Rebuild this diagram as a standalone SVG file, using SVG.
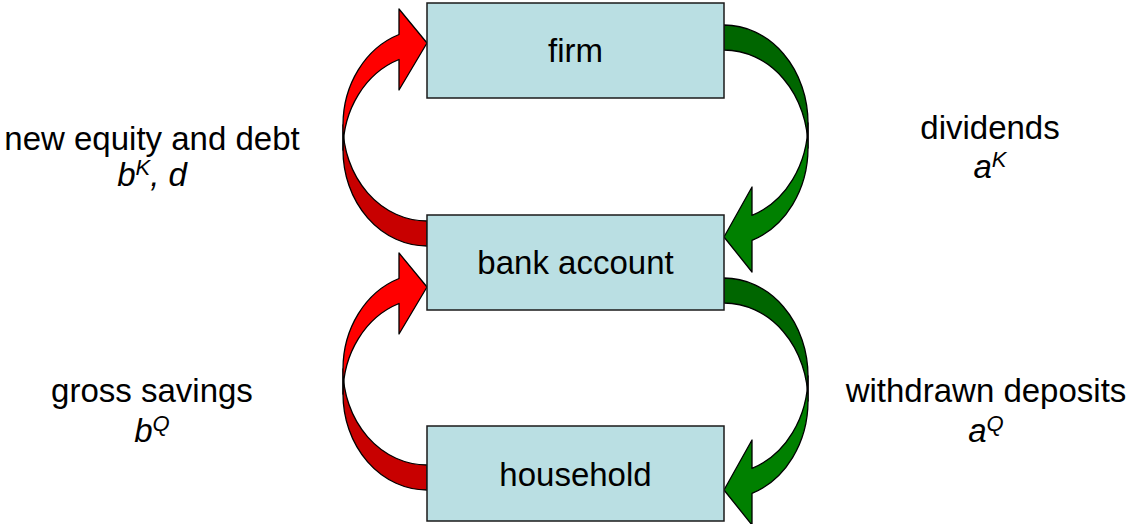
<svg xmlns="http://www.w3.org/2000/svg" width="1131" height="524" viewBox="0 0 1131 524">
<style>
.box{fill:#BADFE3;stroke:#1a1a1a;stroke-width:1.5}
.lbl{font-family:"Liberation Sans",Arial,sans-serif;font-size:33px;fill:#000;text-anchor:middle}
.it{font-style:italic}
.rf{fill:#FF0000;stroke:#000;stroke-width:1.3;stroke-linejoin:round}
.rb{fill:#C80000;stroke:#000;stroke-width:1.3;stroke-linejoin:round}
.gf{fill:#008000;stroke:#000;stroke-width:1.3;stroke-linejoin:round}
.gb{fill:#006600;stroke:#000;stroke-width:1.3;stroke-linejoin:round}
</style>
<defs>
<g id="redArrow">
<path class="rb" d="M427,221 A84,96 0 0 1 343,125 L343,150 A84,96 0 0 0 427,246 Z"/>
<path class="rf" d="M343,125 A84,96 0 0 1 399,34.5 L399,9 L427,43 L399,90 L399,59.5 A84,96 0 0 0 343,150 Z"/>
</g>
<g id="greenArrow">
<path class="gb" d="M724,50 A84,98 0 0 1 808,148 L808,123 A84,98 0 0 0 724,25 Z"/>
<path class="gf" d="M808,123 A84,98 0 0 1 752,215.4 L752,187 L724,237 L752,272 L752,240.4 A84,98 0 0 0 808,148 Z"/>
</g>
</defs>
<g id="connectors">
<use href="#redArrow"/>
<use href="#redArrow" transform="translate(0,244)"/>
<use href="#greenArrow"/>
<use href="#greenArrow" transform="translate(0,253)"/>
</g>
<g id="firm">
<rect class="box" x="427" y="3" width="297" height="95"/>
<text class="lbl" x="575.5" y="62">firm</text>
</g>
<g id="bank">
<rect class="box" x="427" y="215" width="297" height="95"/>
<text class="lbl" x="575.5" y="274">bank account</text>
</g>
<g id="household">
<rect class="box" x="427" y="426" width="297" height="95"/>
<text class="lbl" x="575.5" y="486">household</text>
</g>
<g id="labels">
<text class="lbl" x="152" y="150">new equity and debt</text>
<text class="lbl it" x="152" y="186">b<tspan font-size="22" dy="-11">K</tspan><tspan dy="11">, d</tspan></text>
<text class="lbl" x="990" y="139">dividends</text>
<text class="lbl it" x="990" y="178">a<tspan font-size="22" dy="-11">K</tspan></text>
<text class="lbl" x="152" y="402">gross savings</text>
<text class="lbl it" x="152" y="442">b<tspan font-size="22" dy="-11">Q</tspan></text>
<text class="lbl" x="986" y="402">withdrawn deposits</text>
<text class="lbl it" x="986" y="442">a<tspan font-size="22" dy="-11">Q</tspan></text>
</g>
</svg>
